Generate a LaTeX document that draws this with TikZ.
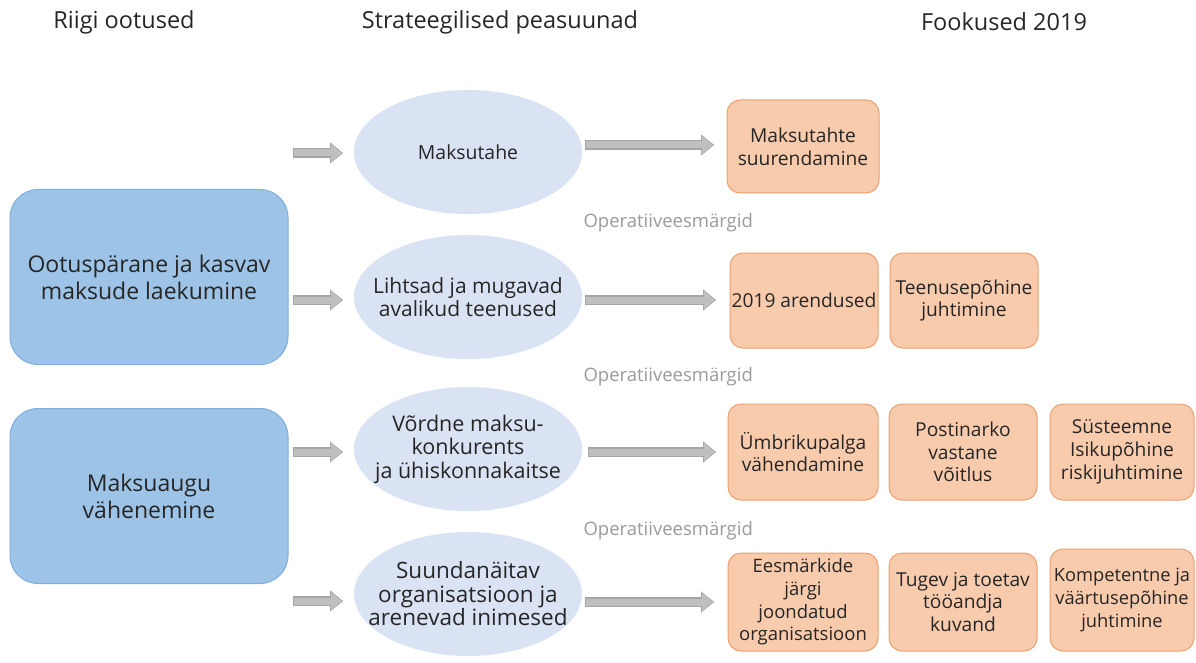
\documentclass[tikz,border=0pt]{standalone}
\usepackage{fontspec}
\setmainfont{Open Sans}
\usetikzlibrary{shapes.geometric,calc,arrows.meta}
\definecolor{txt}{HTML}{262626}
\definecolor{bluefill}{HTML}{9DC3E6}
\definecolor{blueline}{HTML}{7FAEDC}
\definecolor{ellfill}{HTML}{DAE3F3}
\definecolor{orfill}{HTML}{F8CBAD}
\definecolor{orline}{HTML}{EDA06C}
\definecolor{arrfill}{HTML}{BFBFBF}
\definecolor{arrline}{HTML}{A5A5A5}
\definecolor{optxt}{HTML}{9A9A9A}
\tikzset{
  header/.style={text=txt,font=\fontsize{23.5}{27}\selectfont,anchor=center},
  bluebox/.style={draw=blueline,line width=1pt,fill=bluefill,rounded corners=28pt,
    minimum width=278pt,minimum height=175pt,align=center,text=txt,
    font=\fontsize{23}{27}\selectfont},
  ell/.style={ellipse,fill=ellfill,draw=none,minimum width=228pt,minimum height=124pt,
    inner sep=0pt},
  elltext/.style={align=center,text=txt,inner sep=0pt,font=\fontsize{#1}{23.5}\selectfont},
  orbox/.style={draw=orline,line width=1pt,fill=orfill,rounded corners=13pt,
    minimum width=150pt,minimum height=96pt,inner sep=0pt,align=center,text=txt,
    font=\fontsize{19.2}{22.7}\selectfont},
  oplabel/.style={text=optxt,font=\fontsize{18.5}{22}\selectfont,anchor=west},
  blockarrow/.style={draw=arrline,line width=8.5pt,-{Triangle[length=13pt,width=20pt]},
    preaction={draw=arrline,line width=9.5pt},
    postaction={draw=arrfill,line width=7pt,-{Triangle[length=11pt,width=17.5pt]},shorten >=1pt,shorten <=0.5pt}},
}
\begin{document}
\begin{tikzpicture}[x=1pt,y=-1pt]
\useasboundingbox (0,0) rectangle (1196,663);
% headers
\node[header] (h1) at (124,22) {Riigi ootused};
\node[header] (h2) at (500,22) {Strateegilised peasuunad};
\node[header] (h3) at (1004,22) {Fookused 2019};
% blue boxes
\node[bluebox] (b1) at (149,277) {Ootusp\"arane ja kasvav\\maksude laekumine};
\node[bluebox] (b2) at (149,496) {Maksuaugu\\v\"ahenemine};
% ellipses
\node[ell,label={[elltext=19.4]center:Maksutahe}] (e1) at (468,152) {};
\node[ell,label={[elltext=21]center:{Lihtsad ja mugavad\\avalikud teenused}}] (e2) at (468,297) {};
\node[ell,label={[elltext=21.5]center:{V\~ordne maksu-\\konkurents\\ja \"uhiskonnakaitse}}] (e3) at (468,449) {};
\node[ell,label={[elltext=22.5]center:{Suundan\"aitav\\organisatsioon ja\\arenevad inimesed}}] (e4) at (468,594) {};
% orange boxes
\node[orbox,minimum width=152pt,minimum height=93pt] (o11) at (803,146.5) {Maksutahte\\suurendamine};
\node[orbox,minimum width=148pt,minimum height=95pt] (o21) at (804,300.5) {2019 arendused};
\node[orbox,minimum width=148pt,minimum height=95pt] (o22) at (964,300.5) {Teenusep\~ohine\\juhtimine};
\node[orbox] (o31) at (803,452) {\"Umbrikupalga\\v\"ahendamine};
\node[orbox,minimum width=148pt] (o32) at (963,452) {Postinarko\\vastane\\v\~oitlus};
\node[orbox,minimum width=144pt] (o33) at (1122,452) {S\"usteemne\\Isikup\~ohine\\riskijuhtimine};
\node[orbox,minimum height=98pt,font=\fontsize{18.5}{22.7}\selectfont] (o41) at (803,602) {Eesm\"arkide\\j\"argi\\joondatud\\organisatsioon};
\node[orbox,minimum width=148pt,minimum height=98pt] (o42) at (963,602) {Tugev ja toetav\\t\"o\"oandja\\kuvand};
\node[orbox,minimum width=144pt,minimum height=102pt,font=\fontsize{18.3}{22.7}\selectfont] (o43) at (1122,600) {Kompetentne ja\\v\"a\"artusep\~ohine\\juhtimine};
% operative labels
\node[oplabel] (op1) at (580,223) {Operatiiveesm\"argid};
\node[oplabel] (op2) at (580,377) {Operatiiveesm\"argid};
\node[oplabel] (op3) at (580,531) {Operatiiveesm\"argid};
% arrow end points
\coordinate (l1) at (293,153); \coordinate (l1e) at (343,153);
\coordinate (l2) at (293,300); \coordinate (l2e) at (343,300);
\coordinate (l3) at (293,452); \coordinate (l3e) at (343,452);
\coordinate (l4) at (293,601); \coordinate (l4e) at (343,601);
\coordinate (r1) at (585,145); \coordinate (r1e) at (714,145);
\coordinate (r2) at (585,300); \coordinate (r2e) at (716,300);
\coordinate (r3) at (588,452); \coordinate (r3e) at (716,452);
\coordinate (r4) at (585,602); \coordinate (r4e) at (714,602);
\foreach \s in {l1,l2,l3,l4,r1,r2,r3,r4}{
  \draw[blockarrow] (\s) -- (\s e);
}
\end{tikzpicture}
\end{document}
